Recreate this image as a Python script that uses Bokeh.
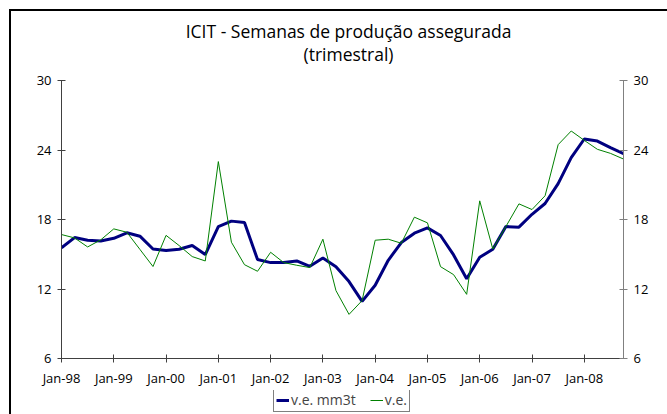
from bokeh.plotting import figure
from bokeh.layouts import column
from bokeh.models import (ColumnDataSource, LinearAxis, FixedTicker, Range1d,
                          Label, Legend, LegendItem)
from bokeh.embed import file_html
from bokeh.resources import INLINE

title_line1 = "ICIT - Semanas de produção assegurada"
title_line2 = "(trimestral)"

tick_labels = ["Jan-98", "Jan-99", "Jan-00", "Jan-01", "Jan-02", "Jan-03",
               "Jan-04", "Jan-05", "Jan-06", "Jan-07", "Jan-08"]

quarters = list(range(44))  # 1998Q1 .. 2008Q4

ve_mm3t = [15.55, 16.44, 16.21, 16.15, 16.38, 16.85, 16.56, 15.45,
           15.32, 15.43, 15.75, 14.97, 17.39, 17.86, 17.74, 14.54,
           14.28, 14.28, 14.42, 13.96, 14.68, 13.93, 12.64, 10.93,
           12.32, 14.48, 16.01, 16.82, 17.28, 16.62, 14.94, 12.89,
           14.74, 15.43, 17.39, 17.34, 18.45, 19.38, 21.10, 23.34,
           24.95, 24.77, 24.20, 23.68]

ve = [16.70, 16.41, 15.63, 16.24, 17.19, 16.90, 15.42, 13.94,
      16.63, 15.75, 14.80, 14.42, 23.00, 16.04, 14.10, 13.53,
      15.17, 14.28, 14.05, 13.85, 16.30, 11.86, 9.81, 11.00,
      16.21, 16.30, 15.95, 18.20, 17.71, 13.93, 13.24, 11.54,
      19.61, 15.45, 17.39, 19.35, 18.86, 20.05, 24.46, 25.64,
      24.83, 24.06, 23.71, 23.22]

y_ticks = [6, 12, 18, 24, 30]

src = ColumnDataSource(dict(x=quarters, mm3t=ve_mm3t, ve=ve))

FONT = "Open Sans"
BLUE = "#000080"
GREEN = "#008000"

def strip(height):
    f = figure(width=656, height=height, output_backend="svg", toolbar_location=None,
               x_range=Range1d(1000, 1001), y_range=Range1d(1000, 1001),
               x_axis_type=None, y_axis_type=None,
               min_border_left=0, min_border_right=0,
               min_border_top=0, min_border_bottom=0,
               background_fill_color="white", border_fill_color="white")
    f.outline_line_color = None
    f.grid.visible = False
    return f

# ---- title strip
ts = strip(58)
ts.add_layout(Label(x=287, y=39, x_units="screen", y_units="screen",
                    text=title_line1, text_align="center", text_baseline="alphabetic",
                    text_font=FONT, text_font_size="17.5px", text_color="black"))
ts.add_layout(Label(x=287, y=16, x_units="screen", y_units="screen",
                    text=title_line2, text_align="center", text_baseline="alphabetic",
                    text_font=FONT, text_font_size="17.5px", text_color="black"))

# ---- main chart
p = figure(width=656, height=321, output_backend="svg", toolbar_location=None,
           x_range=Range1d(0, 43), y_range=Range1d(6, 30),
           min_border_left=50, min_border_right=44,
           min_border_top=11, min_border_bottom=32,
           background_fill_color="white", border_fill_color="white")
p.outline_line_color = None
p.grid.visible = False

def style_axis(ax, color):
    ax.axis_line_color = color
    ax.major_tick_line_color = color
    ax.major_tick_in = 4
    ax.major_tick_out = 4
    ax.minor_tick_line_color = None
    ax.major_label_text_font = FONT
    ax.major_label_text_font_size = "13px"
    ax.major_label_text_color = "black"
    ax.major_label_standoff = 6

xa = p.xaxis[0]
xa.ticker = FixedTicker(ticks=[4 * i for i in range(len(tick_labels))])
xa.major_label_overrides = {4 * i: lab for i, lab in enumerate(tick_labels)}
style_axis(xa, "#404040")
xa.major_label_standoff = 6

ya = p.yaxis[0]
ya.ticker = FixedTicker(ticks=y_ticks)
style_axis(ya, "#404040")

ra = LinearAxis(ticker=FixedTicker(ticks=y_ticks))
style_axis(ra, "#808080")
p.add_layout(ra, "right")

p.line("x", "mm3t", source=src, line_color=BLUE, line_width=3)
p.line("x", "ve", source=src, line_color=GREEN, line_width=1)

# ---- legend strip (its lines are drawn from the same data, out of view)
lg = strip(25)
l1 = lg.line("x", "mm3t", source=src, line_color=BLUE, line_width=3)
l2 = lg.line("x", "ve", source=src, line_color=GREEN, line_width=1)

legend = Legend(items=[LegendItem(label="v.e. mm3t", renderers=[l1]),
                       LegendItem(label="v.e.", renderers=[l2])],
                orientation="horizontal", location=(212, 3),
                label_text_font=FONT, label_text_font_size="14px",
                glyph_width=13, glyph_height=14, label_standoff=2,
                spacing=14, padding=2, margin=0,
                border_line_color="black", border_line_width=1,
                label_height=14)
lg.add_layout(legend, "center")

layout = column(ts, p, lg, spacing=0,
                styles={"border-left": "2px solid black", "border-top": "2px solid black",
                        "margin-left": "9px", "margin-top": "9px"})

open("out.html", "w").write(file_html(layout, INLINE))
